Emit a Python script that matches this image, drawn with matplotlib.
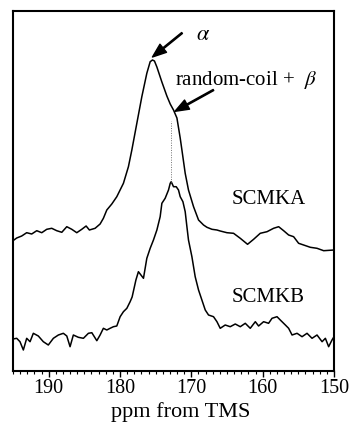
import numpy as np
import matplotlib
matplotlib.use("Agg")
import matplotlib.pyplot as plt
from matplotlib.ticker import MultipleLocator

plt.rcParams["font.family"] = ["Liberation Serif", "DejaVu Serif"]
plt.rcParams["mathtext.fontset"] = "stix"

# 13C CP/MAS carbonyl region, chemical shift (ppm from TMS) and intensity (a.u.)
ppm_scmka = [195.0, 194.48, 193.78, 193.08, 192.38, 191.67, 190.97, 190.27, 189.57, 188.87,
             188.16, 187.46, 186.76, 186.06, 185.36, 184.75, 184.29, 183.49, 182.79, 182.33,
             181.85, 181.15, 180.45, 179.52, 178.82, 178.34, 177.64, 176.94, 176.24, 175.77,
             175.45, 175.17, 174.83, 174.13, 173.43, 172.96, 172.50, 172.02, 171.56, 171.32,
             170.86, 170.40, 169.69, 168.99, 168.29, 167.81, 167.11, 166.41, 165.95, 165.01,
             164.08, 163.14, 162.12, 161.27, 160.34, 159.39, 158.47, 157.76, 157.06, 156.36,
             155.66, 154.96, 154.26, 153.32, 152.38, 151.45, 150.0]
int_scmka = [-4.7, -2.0, 0.0, 3.3, 2.0, 5.3, 3.3, 6.7, 7.7, 5.3,
             3.7, 9.3, 6.7, 3.3, 6.7, 10.0, 6.0, 7.7, 12.0, 17.7,
             26.0, 32.0, 39.3, 52.7, 69.3, 86.0, 112.7, 139.3, 162.7, 174.3,
             176.0, 175.0, 169.0, 154.0, 140.0, 132.0, 126.0, 118.0, 98.0, 86.0,
             62.7, 46.0, 29.3, 16.0, 11.0, 8.7, 6.7, 6.0, 5.0, 3.3,
             2.7, -2.3, -8.3, -3.3, 2.7, 4.3, 7.7, 9.3, 5.3, 1.0,
             -0.7, -7.3, -9.0, -11.3, -12.3, -14.7, -14.0]

ppm_scmkb = [195.0, 194.48, 194.02, 193.55, 193.08, 192.61, 192.15, 191.45, 190.75, 190.05,
             189.34, 188.64, 187.94, 187.46, 187.0, 186.54, 185.84, 185.13, 184.43, 183.95,
             183.25, 182.79, 182.33, 181.85, 181.39, 180.92, 180.45, 179.98, 179.52, 179.04,
             178.58, 178.30, 177.77, 177.42, 176.71, 176.24, 175.77, 175.31, 174.83, 174.37,
             174.13, 173.67, 173.20, 172.96, 172.82, 172.50, 172.12, 171.80, 171.56, 171.18,
             170.86, 170.62, 170.40, 169.92, 169.46, 168.99, 168.52, 168.05, 167.59, 166.89,
             166.41, 165.95, 165.25, 164.55, 163.84, 163.14, 162.44, 161.74, 161.03, 160.57,
             159.87, 159.17, 158.69, 157.99, 157.53, 156.82, 156.36, 155.88, 155.18, 154.48,
             153.78, 153.08, 152.38, 151.67, 151.21, 150.75, 150.28, 150.0]
int_scmkb = [-1.0, -0.3, -3.7, -12.0, -0.3, -3.7, 4.7, 2.0, -3.7, -7.0,
             -0.3, 3.0, 4.7, 2.0, -8.7, 3.0, 0.7, -0.3, 4.7, 5.3,
             -2.7, 3.0, 9.7, 8.0, 9.7, 11.3, 12.0, 21.3, 26.3, 29.7,
             36.3, 41.0, 58.0, 66.3, 59.7, 79.7, 89.7, 98.0, 108.0, 121.3,
             134.7, 139.7, 148.0, 154.7, 156.3, 151.3, 151.3, 148.0, 141.3, 136.3,
             126.3, 111.3, 98.0, 81.3, 61.3, 48.0, 38.0, 28.0, 23.0, 21.3,
             16.3, 9.7, 13.0, 11.3, 14.0, 11.3, 14.7, 9.7, 16.3, 12.0,
             16.3, 14.7, 19.7, 21.3, 18.0, 13.0, 9.7, 3.0, 4.7, 1.3,
             4.7, -0.3, 3.0, -3.7, -0.3, -8.7, -2.0, 1.3]

sample_names = ["SCMKA", "SCMKB"]
x_ticks = [190, 180, 170, 160, 150]

# vertical stacking of the two traces
off_a, off_b = 135.0, 33.0

fig = plt.figure(figsize=(3.5, 4.25), dpi=100)
ax = fig.add_axes([13 / 350, 1 - 371 / 425, 321 / 350, 360 / 425])

ya = np.array(int_scmka) + off_a
yb = np.array(int_scmkb) + off_b
ax.plot(ppm_scmka, ya, color="black", lw=1.1)
ax.plot(ppm_scmkb, yb, color="black", lw=1.1)

# dotted guide from the SCMKB maximum up towards the SCMKA shoulder
ib = int(np.argmax(int_scmkb))
xp = ppm_scmkb[ib]
y_top = np.interp(xp, ppm_scmka[::-1], ya[::-1]) - 15
ax.plot([xp, xp], [yb[ib], y_top], color="0.45", lw=0.7, ls=(0, (1, 1.5)))

ax.set_xlim(195, 150)
ax.set_ylim(0, 360)
ax.set_yticks([])
ax.set_xticks(x_ticks)
ax.xaxis.set_minor_locator(MultipleLocator(1))
ax.tick_params(axis="x", which="major", direction="out", length=4, width=1.0,
               labelsize=14.5, pad=2)
ax.tick_params(axis="x", which="minor", direction="out", length=2.2, width=0.8)
for s in ax.spines.values():
    s.set_linewidth(1.5)

fig.text(181 / 350, 1 - 412 / 425, "ppm from TMS", ha="center", va="center", fontsize=16)

# peak assignments
ia = int(np.argmax(int_scmka))
arrow_kw = dict(facecolor="black", edgecolor="black", width=0.9, headwidth=7.5,
                headlength=10, shrink=0)
ax.annotate("", xy=(ppm_scmka[ia], ya[ia] + 3), xytext=(171.3, 338), arrowprops=arrow_kw)
ax.text(169.3, 336, r"$\alpha$", fontsize=16, ha="left", va="center")

x_sh = 172.3
y_sh = np.interp(x_sh, ppm_scmka[::-1], ya[::-1]) + 2
ax.annotate("", xy=(x_sh, y_sh), xytext=(166.9, 281), arrowprops=arrow_kw)
ax.text(172.3, 291, r"random-coil +  $\beta$", fontsize=15, ha="left", va="center")

ax.text(159.2, 171, sample_names[0], fontsize=15, ha="center", va="center")
ax.text(159.3, 73, sample_names[1], fontsize=15, ha="center", va="center")

fig.savefig("out.png", dpi=100)
